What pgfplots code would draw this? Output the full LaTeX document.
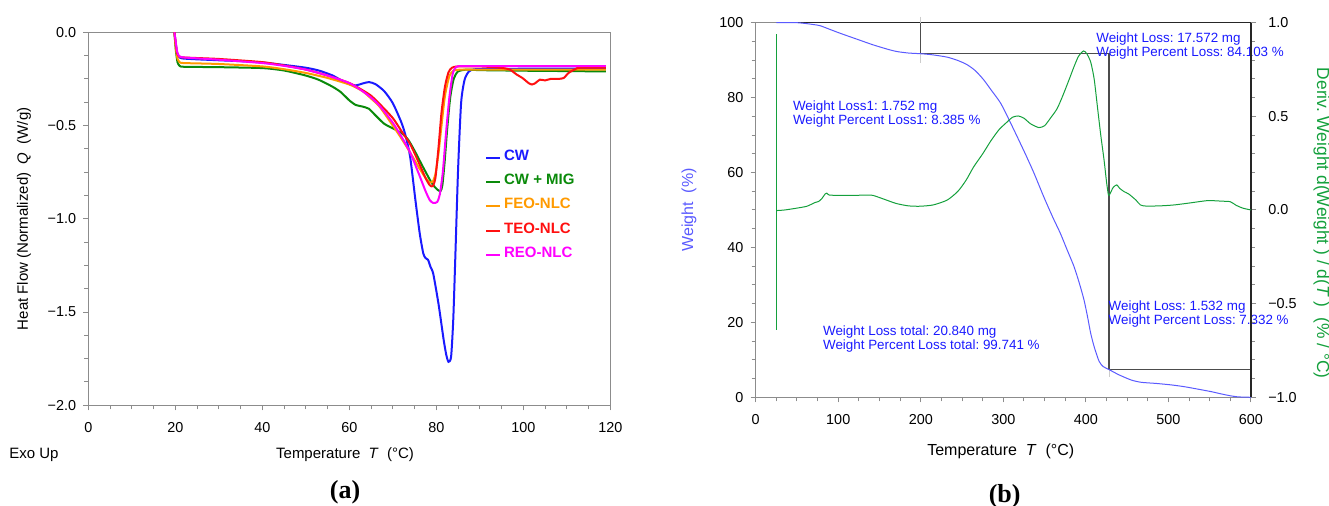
\documentclass[border=0pt]{standalone}
\usepackage{pgfplots}
\pgfplotsset{compat=1.18}
\usepackage{fontspec}
\setmainfont{Liberation Sans}
\newfontfamily\serifbf{Liberation Serif}
\frenchspacing
\definecolor{cwblue}{HTML}{1A1AFF}
\definecolor{cwgreen}{HTML}{0A8A0A}
\definecolor{feoorange}{HTML}{FF9A00}
\definecolor{teored}{HTML}{FF1010}
\definecolor{reomag}{HTML}{FF00FF}
\definecolor{wblue}{HTML}{5A5AFF}
\definecolor{dgreen}{HTML}{14A03C}
\definecolor{annoblue}{HTML}{1A1AFF}
\definecolor{axgray}{HTML}{8C8C8C}

\pgfplotsset{
  dsc/.style={
    scale only axis, anchor=south west, clip=false,
    axis line style={draw=axgray, line width=0.5pt},
    tick align=outside,
    major tick length=2.6pt, minor tick length=2pt,
    every tick/.append style={draw=axgray, line width=0.5pt},
    tick label style={font=\fontsize{7.2}{8}\selectfont},
    xticklabel style={yshift=-2.5pt},
  },
}
\tikzset{anno/.style={font=\fontsize{6.7}{7.1}\selectfont, text=annoblue, align=left, inner sep=0pt, anchor=west}}

\begin{document}
\begin{tikzpicture}
\useasboundingbox (0,0) rectangle (664.5pt,253pt);

% (a) DSC
\begin{axis}[dsc, at={(44.15pt,50.35pt)}, width=261pt, height=186.5pt,
  xmin=0, xmax=120, ymin=-2, ymax=0, tick pos=left,
  xtick={0,20,...,120}, xticklabels={0,20,40,60,80,100,120}, minor x tick num=3,
  ytick={-2,-1.5,-1,-0.5,0}, yticklabels={−2.0,−1.5,−1.0,−0.5,0.0}, minor y tick num=3,
  xlabel={Temperature\ \ \textit{T}\ \ (°C)},
  ylabel={Heat Flow (Normalized)\ \ \textit{Q}\ \ (W/g)},
  every axis x label/.style={at={(axis description cs:0.4918,-0.133)}, anchor=center,
    font=\fontsize{7.5}{9}\selectfont},
  every axis y label/.style={at={(axis description cs:-0.123,0.5)}, anchor=center, rotate=90,
    font=\fontsize{7.5}{9}\selectfont},
  legend style={at={(0.748,0.703)}, anchor=north west, draw=none, fill=none,
    font=\fontsize{7.5}{8}\selectfont\bfseries, row sep=3.6pt,
    nodes={inner sep=1.5pt, text height=5pt, text depth=0.5pt}},
  legend cell align=left,
  legend image code/.code={\draw[#1,line width=1pt] (0pt,-1pt) -- (7pt,-1pt);},
]
\addplot[cwblue, line width=1pt, smooth, tension=0.4] coordinates {
(19.8,0)(20.1,-0.06)(20.4,-0.11)(20.8,-0.13)(21.5,-0.14)(25,-0.145)(30,-0.15)(35,-0.155)
(40,-0.162)(45,-0.175)(50,-0.19)(53,-0.205)(56,-0.23)(58,-0.255)(60,-0.278)(61.5,-0.285)
(63,-0.275)(64.5,-0.267)(66,-0.278)(68,-0.315)(70,-0.38)(72,-0.485)(73,-0.56)(74,-0.67)
(75.2,-0.9)(76.2,-1.08)(77,-1.185)(77.5,-1.21)(78.1,-1.22)(78.7,-1.26)(79.3,-1.295)
(80.5,-1.455)(81.7,-1.65)(82.3,-1.73)(82.8,-1.767)(83.4,-1.74)(83.9,-1.54)(84.4,-1.185)
(85,-0.74)(85.7,-0.38)(86.5,-0.255)(87.5,-0.21)(89,-0.198)(95,-0.196)(105,-0.195)(119,-0.195)};
\addlegendentry{\textcolor{cwblue}{CW}}
\addplot[cwgreen, line width=1pt, smooth, tension=0.4] coordinates {
(19.8,0)(20.1,-0.09)(20.5,-0.16)(21,-0.18)(22,-0.185)(30,-0.187)(40,-0.192)(45,-0.205)
(50,-0.232)(53,-0.255)(56,-0.29)(58,-0.32)(60,-0.365)(61.5,-0.39)(63,-0.398)(64.5,-0.41)
(66,-0.445)(68,-0.49)(70,-0.515)(72,-0.54)(73.5,-0.575)(75,-0.635)(77,-0.725)(79,-0.81)
(80.3,-0.845)(81,-0.85)(81.4,-0.82)(81.9,-0.7)(82.5,-0.52)(83.2,-0.35)(84,-0.25)(85,-0.21)
(87,-0.2)(90,-0.203)(100,-0.206)(110,-0.208)(119,-0.21)};
\addlegendentry{\textcolor{cwgreen}{CW + MIG}}
\addplot[feoorange, line width=1pt, smooth, tension=0.4] coordinates {
(19.8,0)(20.1,-0.08)(20.5,-0.14)(21,-0.16)(22,-0.165)(30,-0.17)(40,-0.183)(45,-0.198)
(50,-0.218)(55,-0.245)(60,-0.28)(63,-0.315)(65,-0.355)(67,-0.4)(70,-0.5)(72,-0.57)
(74,-0.645)(76,-0.725)(77.5,-0.78)(78.5,-0.805)(79.2,-0.8)(79.8,-0.76)(80.5,-0.65)
(81.2,-0.5)(82,-0.34)(83,-0.235)(84,-0.205)(86,-0.2)(90,-0.2)(119,-0.2)};
\addlegendentry{\textcolor{feoorange}{FEO-NLC}}
\addplot[teored, line width=1pt, smooth, tension=0.4] coordinates {
(19.8,0)(20.1,-0.06)(20.4,-0.11)(20.8,-0.128)(22,-0.135)(30,-0.143)(40,-0.16)(45,-0.178)
(50,-0.2)(55,-0.232)(60,-0.272)(63,-0.31)(65,-0.34)(67,-0.385)(70,-0.46)(72,-0.53)
(74,-0.6)(76,-0.7)(77.5,-0.78)(78.5,-0.82)(79.2,-0.825)(79.8,-0.78)(80.5,-0.62)
(81.2,-0.43)(82,-0.29)(82.8,-0.215)(83.6,-0.19)(85,-0.183)(90,-0.183)(94.8,-0.19)
(96.9,-0.2)(98.5,-0.227)(99.8,-0.245)(101.2,-0.272)(102,-0.28)(102.8,-0.272)(103.8,-0.254)
(105,-0.258)(106.3,-0.25)(108,-0.25)(109.3,-0.245)(110.4,-0.218)(112,-0.197)(113,-0.19)(119,-0.19)};
\addlegendentry{\textcolor{teored}{TEO-NLC}}
\addplot[reomag, line width=1pt, smooth, tension=0.4] coordinates {
(19.8,0)(20.1,-0.05)(20.4,-0.1)(20.8,-0.125)(22,-0.135)(30,-0.147)(40,-0.165)(45,-0.18)
(50,-0.2)(55,-0.232)(60,-0.272)(63,-0.315)(65,-0.35)(67,-0.395)(70,-0.485)(72,-0.56)
(74,-0.645)(76,-0.76)(77.5,-0.85)(78.5,-0.9)(79.3,-0.915)(80.2,-0.91)(80.8,-0.87)
(81.5,-0.75)(82.2,-0.55)(83,-0.35)(83.8,-0.22)(84.6,-0.185)(86,-0.182)(90,-0.182)(119,-0.182)};
\addlegendentry{\textcolor{reomag}{REO-NLC}}
\node[font=\fontsize{7.5}{9}\selectfont] at (axis description cs:-0.104,-0.133) {Exo Up};
\node[font=\serifbf\bfseries\fontsize{13}{14}\selectfont] at (axis description cs:0.4918,-0.2324) {(a)};
\end{axis}

% (b) TGA, weight
\begin{axis}[dsc, at={(377.85pt,54.35pt)}, width=247.65pt, height=187.3pt,
  xmin=0, xmax=600, ymin=0, ymax=100, tick pos=left,
  xtick={0,100,...,600}, xticklabels={0,100,200,300,400,500,600}, minor x tick num=3,
  ytick={0,20,...,100}, yticklabels={0,20,40,60,80,100}, minor y tick num=3,
  xlabel={Temperature\ \ \textit{T}\ \ (°C)},
  ylabel={\textcolor{wblue}{Weight\ \ (\%)}},
  every axis x label/.style={at={(axis description cs:0.4947,-0.1444)}, anchor=center,
    font=\fontsize{8}{9}\selectfont},
  every axis y label/.style={at={(axis description cs:-0.1347,0.5)}, anchor=center, rotate=90,
    font=\fontsize{8}{9}\selectfont},
]
\draw[black!85, line width=0.8pt] (axis cs:40,100) -- (axis cs:600,100);
\draw[black!20, line width=0.5pt] (axis cs:200,101.6) -- (axis cs:200,89.3);
\draw[black!20, line width=0.5pt] (axis cs:428,9) -- (axis cs:428,5.3);
\draw[black!70, line width=0.6pt] (axis cs:200,100) -- (axis cs:200,91.7) -- (axis cs:428,91.7)
  -- (axis cs:428,7.4) -- (axis cs:600,7.4);
\addplot[wblue, line width=0.5pt, smooth, tension=0.4] coordinates {
(25,100)(40,100)(50,100)(60,99.8)(70,99.5)(78,99.2)(90,98.2)(102,97.2)(120,95.8)(142,94.1)
(160,92.9)(171,92.3)(185,91.9)(201,91.7)(215,91.4)(232,90.8)(245,89.9)(256,88.8)(266,87.2)
(276,84.8)(286,81.8)(296.5,78.6)(306,74.5)(316.7,69.6)(327,64.8)(337,59.9)(349,53.5)(360,48)
(369,43.8)(377,39.5)(385.6,34.9)(392,30.5)(397.7,26)(402,21.5)(405.8,17.1)(410,13.5)
(416,9.6)(421,8.2)(428,7.4)(440,6)(455,4.6)(467,4.0)(485,3.7)(503.6,3.3)(520,2.8)(540,2.0)
(552,1.5)(564,0.9)(575,0.4)(585,0.1)(600,0)};
\node[anno] at (axis cs:412.2,93.8) {Weight Loss: 17.572 mg\\Weight Percent Loss: 84.103 \%};
\node[anno] at (axis cs:44.8,75.7) {Weight Loss1: 1.752 mg\\Weight Percent Loss1: 8.385 \%};
\node[anno] at (axis cs:81.2,15.5) {Weight Loss total: 20.840 mg\\Weight Percent Loss total: 99.741 \%};
\node[anno] at (axis cs:427.1,22.3) {Weight Loss: 1.532 mg\\Weight Percent Loss: 7.332 \%};
\node[font=\serifbf\bfseries\fontsize{13}{14}\selectfont] at (axis description cs:0.5027,-0.263) {(b)};
\end{axis}

% (b) TGA, derivative
\begin{axis}[dsc, at={(377.85pt,54.35pt)}, width=247.65pt, height=187.3pt,
  xmin=0, xmax=600, ymin=-1, ymax=1,
  axis x line=none, axis y line*=right, ytick pos=right,
  y axis line style={draw=black!85, line width=0.8pt},
  ytick={-1,-0.5,0,0.5,1}, yticklabels={−1.0,−0.5,0.0,0.5,1.0}, minor y tick num=4,
  yticklabel style={xshift=2.5pt},
  ylabel={\textcolor{dgreen}{Deriv. Weight d(Weight\ ) / d(\textit{T}\ )\ \ (\% / °C)}},
  every axis y label/.style={at={(axis description cs:1.1427,0.465)}, anchor=center, rotate=-90,
    font=\fontsize{8.7}{9}\selectfont},
]
\addplot[dgreen, line width=0.5pt] coordinates {(25.5,0.938)(25.5,-0.64)};
\addplot[dgreen, line width=0.5pt, smooth, tension=0.4] coordinates {
(25.5,-0.003)(35,0.0)(50,0.01)(62,0.02)(72,0.04)(76,0.045)(80,0.06)(84,0.085)(86,0.09)
(89,0.08)(100,0.078)(120,0.078)(135,0.08)(142,0.078)(154,0.06)(170,0.035)(185,0.022)
(199,0.02)(215,0.027)(232,0.053)(245,0.1)(255,0.16)(264,0.23)(275,0.3)(285,0.37)(295,0.43)
(304.6,0.47)(311,0.495)(318,0.502)(325,0.49)(333,0.46)(343,0.44)(350,0.45)(357,0.49)
(365,0.54)(372,0.61)(380,0.7)(385.6,0.765)(391,0.82)(397,0.849)(401,0.835)(405.8,0.79)
(410,0.7)(414,0.55)(418,0.4)(422,0.267)(425,0.15)(427.3,0.08)(429,0.085)(433,0.12)
(437.4,0.134)(441,0.115)(446.3,0.098)(452,0.085)(460.6,0.053)(466,0.027)(472.7,0.021)
(490,0.022)(507,0.027)(525,0.037)(547.6,0.05)(565,0.047)(575,0.044)(582,0.025)(590,0.01)(600,0.0)};
\end{axis}
\end{tikzpicture}
\end{document}
